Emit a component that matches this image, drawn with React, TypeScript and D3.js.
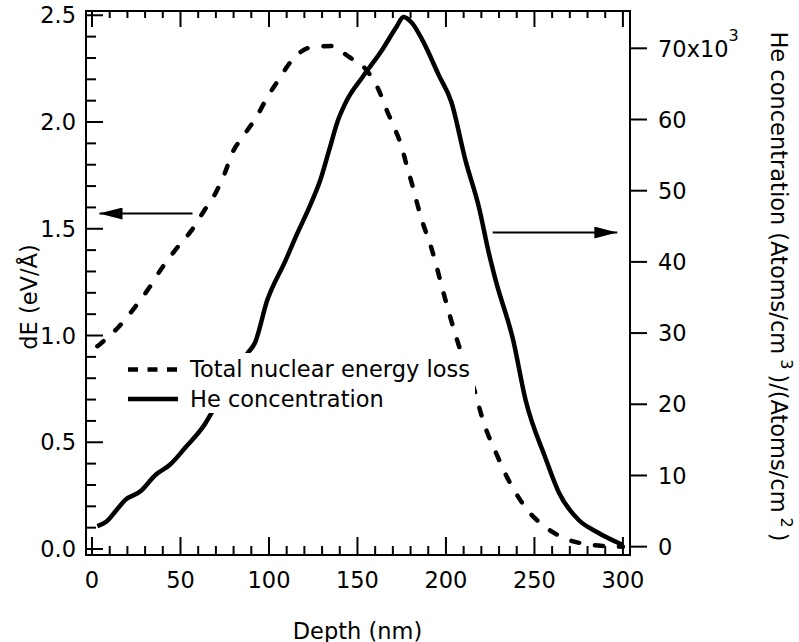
import React from 'react';
import * as d3 from 'd3';

// Total nuclear energy loss (left axis, eV/Å) vs depth (nm)
const energyDepth = [3, 5, 15, 24, 32, 39, 47, 56, 63, 70, 75, 79, 86, 93, 99, 106, 113, 124, 135, 145, 155, 162, 166.5, 171, 175, 178, 181, 184, 187, 191, 194, 197, 200, 203, 206, 211, 217, 220, 223.5, 228, 233, 238.5, 246, 256, 268, 279, 290, 300];
const energyLoss = [0.95, 0.963, 1.04, 1.13, 1.22, 1.31, 1.4, 1.49, 1.58, 1.67, 1.76, 1.85, 1.94, 2.025, 2.115, 2.205, 2.29, 2.35, 2.356, 2.306, 2.244, 2.15, 2.056, 1.97, 1.884, 1.79, 1.705, 1.61, 1.525, 1.43, 1.346, 1.25, 1.158, 1.07, 0.987, 0.86, 0.72, 0.628, 0.542, 0.456, 0.362, 0.276, 0.183, 0.104, 0.047, 0.023, 0.014, 0.011];

// He concentration (right axis, x10^3) vs depth (nm)
const heDepth = [3, 8, 14, 19, 27, 36, 44, 53, 64, 68, 78, 88, 92, 99, 109, 116, 123, 129, 134, 139, 144, 153, 164, 172, 176, 181, 187, 196, 203, 211, 219, 224, 228, 238, 245, 256, 264, 275, 285, 300];
const heConc = [2.9, 3.5, 5.2, 6.6, 7.7, 10.1, 11.5, 14, 17.3, 19, 23.5, 27.2, 28.6, 34.6, 40, 44, 47.8, 51.5, 55.7, 59.9, 62.7, 66, 69.8, 73, 74.4, 73.5, 71, 66.2, 62.5, 54.3, 47.3, 41.5, 37.5, 29, 20.6, 12.6, 7.5, 3.75, 2.1, 0.24];

const xTickValues = [0, 50, 100, 150, 200, 250, 300];
const leftTickValues = [0, 0.5, 1.0, 1.5, 2.0, 2.5];
const leftTickLabels = ['0.0', '0.5', '1.0', '1.5', '2.0', '2.5'];
const rightTickValues = [0, 10, 20, 30, 40, 50, 60, 70];

const legendLabels = ['Total nuclear energy loss', 'He concentration'];

export default function App() {
  const W = 799, H = 642;
  const left = 86, right = 630, top = 11, bottom = 555;
  const font = 'DejaVu Sans';
  const fs = 22.5;

  const x = d3.scaleLinear().domain([-3.4, 304]).range([left, right]);
  const yL = d3.scaleLinear().domain([-0.028, 2.52]).range([bottom, top]);
  const yR = d3.scaleLinear().domain([-1.17, 75.24]).range([bottom, top]);

  const energyPts = energyDepth.map((d, i) => [d, energyLoss[i]] as [number, number]);
  const hePts = heDepth.map((d, i) => [d, heConc[i]] as [number, number]);

  const energyLine = d3.line<[number, number]>().x(d => x(d[0])).y(d => yL(d[1])).curve(d3.curveMonotoneX);
  const heLine = d3.line<[number, number]>().x(d => x(d[0])).y(d => yR(d[1])).curve(d3.curveMonotoneX);

  const xMinor = d3.range(0, 301, 10);
  const lMinor = d3.range(0, 26, 1).map(v => v / 10);

  const tickStyle = { stroke: '#000', strokeWidth: 2 };

  return (
    <svg width={W} height={H} style={{ position: 'absolute', left: 0, top: 0, display: 'block', background: '#fff' }}
      fontFamily={font} fontSize={fs}>
      <rect x={0} y={0} width={W} height={H} fill="#fff" />
      {/* curves */}
      <path d={energyLine(energyPts) || ''} fill="none" stroke="#000" strokeWidth={4.5}
        strokeDasharray="8,16" strokeLinecap="round" />
      <path d={heLine(hePts) || ''} fill="none" stroke="#000" strokeWidth={4.5} strokeLinejoin="round" />

      {/* legend */}
      <rect x={120} y={353} width={355} height={60} fill="#fff" />
      <line x1={128} x2={177} y1={369.5} y2={369.5} stroke="#000" strokeWidth={4.5} strokeDasharray="10,9.5" />
      <text x={190} y={377}>{legendLabels[0]}</text>
      <line x1={128} x2={178} y1={399} y2={399} stroke="#000" strokeWidth={4.5} />
      <text x={190} y={407}>{legendLabels[1]}</text>

      {/* frame */}
      <rect x={left} y={top} width={right - left} height={bottom - top} fill="none" stroke="#000" strokeWidth={2} />

      {/* bottom & top ticks */}
      {xMinor.map(v => {
        const major = v % 50 === 0;
        const len = major ? 18 : 9;
        return (
          <g key={'x' + v}>
            <line x1={x(v)} x2={x(v)} y1={bottom} y2={bottom - len} {...tickStyle} />
            <line x1={x(v)} x2={x(v)} y1={top} y2={top + len - 2} {...tickStyle} />
          </g>
        );
      })}
      {xTickValues.map(v => (
        <text key={'xl' + v} x={x(v)} y={588} textAnchor="middle">{v}</text>
      ))}

      {/* left ticks */}
      {lMinor.map(v => {
        const major = Math.round(v * 10) % 5 === 0;
        const len = major ? 17 : 10;
        return <line key={'l' + v} x1={left} x2={left + len} y1={yL(v)} y2={yL(v)} {...tickStyle} />;
      })}
      {leftTickValues.map((v, i) => (
        <text key={'ll' + v} x={76} y={yL(v) + 8.2} textAnchor="end">{leftTickLabels[i]}</text>
      ))}

      {/* right ticks */}
      {rightTickValues.map(v => (
        <g key={'r' + v}>
          <line x1={right} x2={right + 17} y1={yR(v)} y2={yR(v)} {...tickStyle} />
          {v === 70 ? (
            <text x={658} y={yR(v) + 8.2}>70x10<tspan dy={-16} fontSize={16}>3</tspan></text>
          ) : (
            <text x={658} y={yR(v) + 8.2}>{v}</text>
          )}
        </g>
      ))}

      {/* axis titles */}
      <text x={357.5} y={638.5} textAnchor="middle">Depth (nm)</text>
      <text transform="translate(37,297) rotate(-90)" textAnchor="middle">dE (eV/Å)</text>
      <text transform="translate(771,286.5) rotate(90)" textAnchor="middle">
        He concentration (Atoms/cm<tspan dy={-10} dx={5} fontSize={16}>3</tspan><tspan dy={10} dx={5}>)/(Atoms/cm</tspan><tspan dy={-10} dx={5} fontSize={16}>2</tspan><tspan dy={10} dx={5}>)</tspan>
      </text>

      {/* arrows */}
      <defs>
        <marker id="ah" viewBox="0 0 23 12" refX={23} refY={6} markerWidth={23} markerHeight={12}
          markerUnits="userSpaceOnUse" orient="auto">
          <path d="M0,0 L23,6 L0,12 Z" fill="#000" />
        </marker>
      </defs>
      <line x1={192.5} x2={99.5} y1={213.5} y2={213.5} stroke="#000" strokeWidth={1.8} markerEnd="url(#ah)" />
      <line x1={492.7} x2={617.3} y1={232.5} y2={232.5} stroke="#000" strokeWidth={1.8} markerEnd="url(#ah)" />
    </svg>
  );
}
